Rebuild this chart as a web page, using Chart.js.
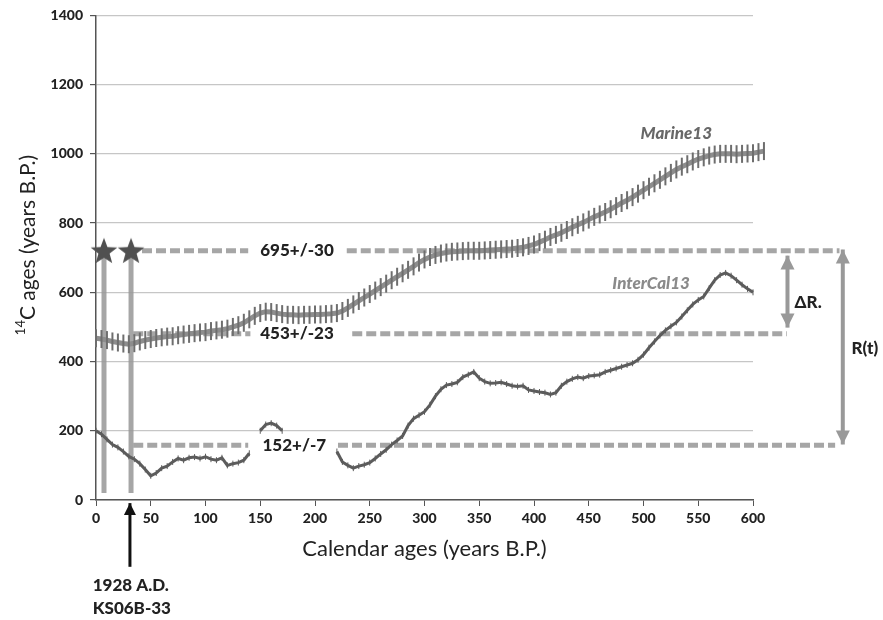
<!DOCTYPE html>
<html>
<head>
<meta charset="utf-8">
<script src="https://cdn.jsdelivr.net/npm/chart.js@4.4.0/dist/chart.umd.min.js"></script>
<style>html,body{margin:0;padding:0;background:#fff;}</style>
</head>
<body>
<canvas id="myChart" width="883" height="620"></canvas>
<script>
// calendar ages (years B.P.), 5-year steps
var calAges = [0,5,10,15,20,25,30,35,40,45,50,55,60,65,70,75,80,85,90,95,
  100,105,110,115,120,125,130,135,140,145,150,155,160,165,170,175,180,185,190,195,
  200,205,210,215,220,225,230,235,240,245,250,255,260,265,270,275,280,285,290,295,
  300,305,310,315,320,325,330,335,340,345,350,355,360,365,370,375,380,385,390,395,
  400,405,410,415,420,425,430,435,440,445,450,455,460,465,470,475,480,485,490,495,
  500,505,510,515,520,525,530,535,540,545,550,555,560,565,570,575,580,585,590,595,
  600,605,610];

// 14C ages
var marine13 = [467,465,462,458,455,452,450,453,458,462,
  465,468,470,472,473,476,478,480,482,484,
  485,488,490,492,495,500,505,512,522,532,
  540,544,543,540,537,535,535,534,535,535,
  536,536,537,538,540,546,555,565,575,585,
  595,605,615,625,635,645,655,665,675,686,
  695,702,708,712,715,717,718,719,720,720,
  720,721,722,723,724,725,726,728,730,734,
  738,745,752,760,766,772,780,788,795,802,
  810,818,825,832,840,849,858,866,875,885,
  895,905,915,925,935,945,955,963,970,978,
  985,990,995,998,1000,1000,1000,999,1000,1001,
  1002,1005,1008];

// 14C ages (gaps = null)
var intcal13 = [200,190,175,160,152,140,126,118,105,88,
  70,78,92,98,110,120,115,122,124,120,
  125,118,115,122,100,105,108,115,135,null,
  200,218,222,215,200,null,null,null,null,null,
  null,null,null,null,140,110,100,92,98,102,
  108,120,133,145,160,172,185,215,235,245,
  255,275,300,320,332,335,340,355,362,370,
  352,342,337,338,340,335,330,328,330,318,
  315,312,310,305,310,330,342,350,355,352,
  358,360,362,370,375,380,385,390,395,405,
  420,440,458,475,490,502,513,530,548,565,
  578,588,612,635,650,656,648,635,622,610,
  600,null,null];

// reservoir reference levels (labels 695+/-30, 453+/-23, 152+/-7)
var refLabels = ['695+/-30', '453+/-23', '152+/-7'];
var refLevels = [720, 480, 158];
var refSegments = [
  [[42, 139], [229, 679]],
  [[34, 141], [234, 631]],
  [[34, 139], [221, 675]]
];

// dated samples (stars) and their calendar ages
var sampleAges = [7.3, 32];
var sampleLevel = 720;
var sampleBase = 20;

// ΔR and R(t) arrows, and the 1928 A.D. pointer
var deltaRArrow = {x: 631.5, from: 498, to: 706};
var rtArrow = {x: 682, from: 160, to: 724};
var pointerArrow = {x: 31, from: -193, to: -9};

var FONT = 'Lato, "Open Sans", sans-serif';

function makeStar(size, color) {
  var c = document.createElement('canvas');
  c.width = size; c.height = size;
  var g = c.getContext('2d');
  var cx = size / 2, cy = size / 2 + 1;
  g.beginPath();
  for (var i = 0; i < 10; i++) {
    var r = (i % 2) ? size * 0.21 : size * 0.5;
    var a = -Math.PI / 2 + i * Math.PI / 5;
    var px = cx + r * Math.cos(a), py = cy + r * Math.sin(a);
    if (i === 0) g.moveTo(px, py); else g.lineTo(px, py);
  }
  g.closePath();
  g.fillStyle = color;
  g.fill();
  return c;
}

function pairs(xs, ys) {
  return xs.map(function (x, i) { return {x: x, y: ys[i]}; });
}

function segmentsData(segs, level) {
  var out = [];
  segs.forEach(function (s, i) {
    if (i > 0) out.push({x: null, y: null});
    out.push({x: s[0], y: level});
    out.push({x: s[1], y: level});
  });
  return out;
}

function lineSet(data, color, width, extra) {
  var ds = {
    data: data, showLine: true, borderColor: color, borderWidth: width,
    pointRadius: 0, pointHoverRadius: 0, clip: false, spanGaps: false, tension: 0
  };
  for (var k in extra) ds[k] = extra[k];
  return ds;
}

var datasets = [];

datasets.push(lineSet(pairs(calAges, marine13), '#8d8d8d', 5, {
  label: 'Marine13', pointStyle: 'line', pointRotation: 90, pointRadius: 9,
  pointBorderColor: '#6e6e6e', pointBorderWidth: 2
}));

datasets.push(lineSet(pairs(calAges, intcal13), '#5c5c5c', 3, {
  label: 'InterCal13', pointStyle: 'line', pointRotation: 90, pointRadius: 3,
  pointBorderColor: '#5c5c5c', pointBorderWidth: 1
}));

datasets.push({
  label: 'samples', data: sampleAges.map(function (x) { return {x: x, y: sampleLevel}; }),
  pointStyle: makeStar(28, '#505050'), pointRadius: 14, showLine: false, clip: false
});

sampleAges.forEach(function (x) {
  datasets.push(lineSet([{x: x, y: sampleBase}, {x: x, y: sampleLevel}], 'rgba(150,150,150,0.85)', 5, {}));
});

refLevels.forEach(function (lv, i) {
  datasets.push(lineSet(segmentsData(refSegments[i], lv), 'rgba(150,150,150,0.85)', 5, {
    borderDash: [10, 4]
  }));
});

[deltaRArrow, rtArrow].forEach(function (a) {
  datasets.push(lineSet([{x: a.x, y: a.from}, {x: a.x, y: a.to}], '#999999', 4, {
    arrowHeads: 'both', headSize: 14
  }));
});
datasets.push(lineSet([{x: pointerArrow.x, y: pointerArrow.from}, {x: pointerArrow.x, y: pointerArrow.to}], '#111111', 3, {
  arrowHeads: 'end', headSize: 12
}));

var LBL = '900 17px ' + FONT;
var annotations = [
  {text: 'Marine13', x: 530, y: 1060, align: 'center', font: 'italic 900 17px ' + FONT, color: '#686868'},
  {text: 'InterCal13', x: 507, y: 625, align: 'center', font: 'italic 900 17px ' + FONT, color: '#8a8a8a'},
  {text: refLabels[0], x: 150, y: refLevels[0], align: 'left', font: LBL, color: '#222'},
  {text: refLabels[1], x: 150, y: refLevels[1], align: 'left', font: LBL, color: '#222'},
  {text: refLabels[2], x: 152, y: refLevels[2], align: 'left', font: LBL, color: '#222'},
  {text: '\u0394R.', x: 638, y: 570, align: 'left', font: LBL, color: '#222'},
  {text: 'R(t)', x: 690, y: 438, align: 'left', font: LBL, color: '#222'},
  {text: '1928 A.D.', x: -3, y: -248, align: 'left', font: LBL, color: '#222'},
  {text: 'KS06B-33', x: -3, y: -314, align: 'left', font: LBL, color: '#222'}
];

var extrasPlugin = {
  id: 'extras',
  afterDatasetsDraw: function (chart) {
    var ctx = chart.ctx;
    chart.data.datasets.forEach(function (ds, i) {
      if (!ds.arrowHeads) return;
      var pts = chart.getDatasetMeta(i).data;
      var ends = ds.arrowHeads === 'both' ? [[pts[1], pts[0]], [pts[0], pts[1]]] : [[pts[0], pts[1]]];
      ends.forEach(function (e) {
        var from = e[0], tip = e[1];
        var ang = Math.atan2(tip.y - from.y, tip.x - from.x);
        var L = ds.headSize, W = ds.headSize * 0.5;
        ctx.save();
        ctx.fillStyle = ds.borderColor;
        ctx.beginPath();
        ctx.moveTo(tip.x, tip.y);
        ctx.lineTo(tip.x - L * Math.cos(ang) + W * Math.sin(ang), tip.y - L * Math.sin(ang) - W * Math.cos(ang));
        ctx.lineTo(tip.x - L * Math.cos(ang) - W * Math.sin(ang), tip.y - L * Math.sin(ang) + W * Math.cos(ang));
        ctx.closePath();
        ctx.fill();
        ctx.restore();
      });
    });
  },
  afterDraw: function (chart) {
    var ctx = chart.ctx, xs = chart.scales.x, ys = chart.scales.y;
    ctx.save();
    ctx.textBaseline = 'middle';
    annotations.forEach(function (a) {
      ctx.font = a.font;
      ctx.fillStyle = a.color;
      ctx.textAlign = a.align;
      ctx.fillText(a.text, xs.getPixelForValue(a.x), ys.getPixelForValue(a.y));
    });
    // y axis title with superscript 14
    ctx.translate(28, 245);
    ctx.rotate(-Math.PI / 2);
    var big = '21px ' + FONT, small = '13px ' + FONT;
    var main = 'C ages (years B.P.)';
    ctx.font = small; var w1 = ctx.measureText('14').width;
    ctx.font = big; var w2 = ctx.measureText(main).width;
    var start = -(w1 + w2) / 2;
    ctx.textAlign = 'left';
    ctx.fillStyle = '#222';
    ctx.font = small;
    ctx.fillText('14', start, -7);
    ctx.font = big;
    ctx.fillText(main, start + w1, 0);
    ctx.restore();
  }
};

var ctx = document.getElementById('myChart').getContext('2d');
var myChart = new Chart(ctx, {
  type: 'scatter',
  data: {datasets: datasets},
  plugins: [extrasPlugin],
  options: {
    responsive: false,
    animation: false,
    events: [],
    layout: {padding: {left: 0, right: 130, top: 14, bottom: 58}},
    plugins: {legend: {display: false}, tooltip: {enabled: false}},
    scales: {
      x: {
        type: 'linear',
        afterDataLimits: function (s) { s.min = 0; s.max = 600; },
        afterFit: function (s) { s.height = 62; },
        ticks: {stepSize: 50, color: '#222', font: {family: FONT, size: 14, weight: '900'}, padding: 4, maxRotation: 0, autoSkip: false,
          callback: function (v) { return String(v); }},
        grid: {drawOnChartArea: false, drawTicks: true, tickLength: 6, tickColor: '#555'},
        border: {color: '#555', width: 1.5},
        title: {display: true, text: 'Calendar ages (years B.P.)', color: '#222', font: {family: FONT, size: 22}, padding: {top: 0, bottom: 0}}
      },
      y: {
        min: 0, max: 1400,
        afterFit: function (s) { s.width = 96; },
        ticks: {stepSize: 200, color: '#222', font: {family: FONT, size: 14, weight: '900'}, padding: 7,
          callback: function (v) { return String(v); }},
        grid: {color: '#c6c6c6', lineWidth: 1.2, tickLength: 6, tickColor: '#555'},
        border: {color: '#555', width: 1.5}
      }
    }
  }
});
</script>
</body>
</html>
